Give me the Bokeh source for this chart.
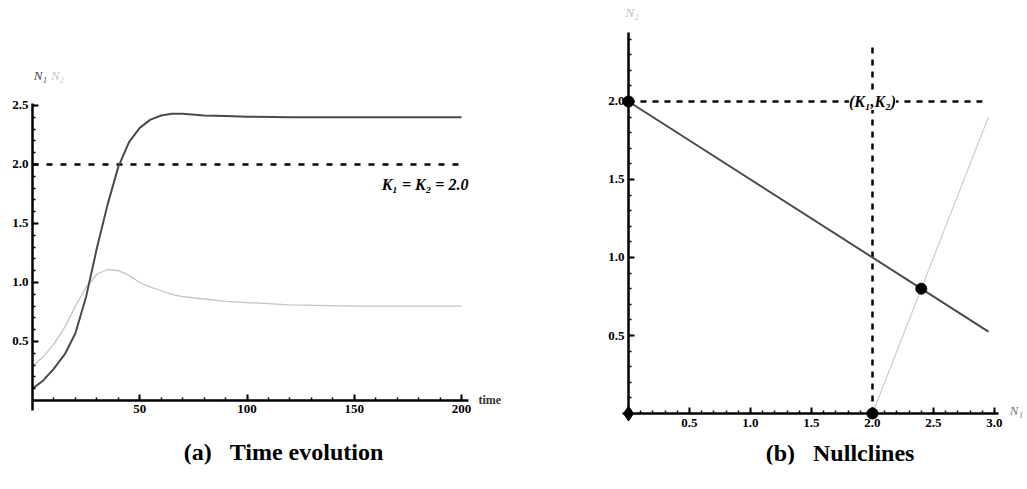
from bokeh.plotting import figure
from bokeh.models import Label, FixedTicker, Range1d, NumeralTickFormatter
from bokeh.layouts import row
from bokeh.embed import file_html
from bokeh.resources import INLINE

# ---- Panel (a): time evolution ----
t = [0, 5, 10, 15, 20, 25, 30, 35, 40, 45, 50, 55, 60, 65, 70, 80, 90, 100, 120, 150, 200]
N1 = [0.10, 0.17, 0.27, 0.39, 0.57, 0.88, 1.29, 1.66, 1.98, 2.19, 2.31, 2.38, 2.415, 2.43, 2.43,
      2.415, 2.41, 2.405, 2.40, 2.40, 2.40]
N2 = [0.29, 0.37, 0.48, 0.62, 0.80, 0.96, 1.07, 1.11, 1.10, 1.06, 1.00, 0.96, 0.93, 0.90, 0.88,
      0.86, 0.84, 0.83, 0.81, 0.80, 0.80]
K_level = 2.0
t_span = [0, 200]
a_xticks = [50, 100, 150, 200]
a_yticks = [0.5, 1.0, 1.5, 2.0, 2.5]

# ---- Panel (b): nullclines ----
null1_N1 = [0.0, 2.95]
null1_N2 = [2.0, 0.525]
null2_N1 = [2.0, 2.95]
null2_N2 = [0.0, 1.9]
Kh_N1 = [0.0, 2.9]
Kh_N2 = [2.0, 2.0]
Kv_N1 = [2.0, 2.0]
Kv_N2 = [0.0, 2.37]
eq_N1 = [0.0, 2.4, 2.0]
eq_N2 = [2.0, 0.8, 0.0]
origin_N1 = [0.0]
origin_N2 = [0.0]
b_xticks = [0.5, 1.0, 1.5, 2.0, 2.5, 3.0]
b_yticks = [0.5, 1.0, 1.5, 2.0]

SERIF = "Liberation Serif"
GAP = "\u00a0\u00a0\u00a0"


def style_axes(p, xbounds, ybounds, fix_y=True):
    for ax in (p.xaxis[0], p.yaxis[0]):
        ax.axis_line_width = 2.5
        ax.axis_line_color = "black"
        ax.major_tick_in = 6
        ax.major_tick_out = 0
        ax.minor_tick_in = 3
        ax.minor_tick_out = 0
        ax.major_tick_line_width = 2
        ax.minor_tick_line_width = 1.5
        ax.major_tick_line_color = "black"
        ax.minor_tick_line_color = "black"
        ax.major_label_text_font = SERIF
        ax.major_label_text_font_style = "bold"
        ax.major_label_text_font_size = "13px"
        ax.major_label_text_color = "black"
    p.xaxis[0].fixed_location = 0
    if fix_y:
        p.yaxis[0].fixed_location = 0
    p.xaxis[0].bounds = xbounds
    p.yaxis[0].bounds = ybounds
    p.xaxis[0].major_label_standoff = 5
    p.yaxis[0].major_label_standoff = 4
    p.xgrid.visible = False
    p.ygrid.visible = False
    p.outline_line_color = None


def lab(p, x, y, text, size, style="bold", color="black", align="center", bg=None):
    p.add_layout(Label(x=x, y=y, text=text, text_font=SERIF, text_font_style=style,
                       text_font_size=size, text_align=align, text_baseline="middle",
                       text_color=color, background_fill_color=bg))


# Panel (a): frame 32..560 px horizontally, 0..464 px vertically; origin at (32, 400)
pa = figure(width=560, height=489, output_backend="svg", toolbar_location=None,
            x_range=Range1d(0, 246.15), y_range=Range1d(-0.5424, 3.3898),
            min_border_left=32, min_border_right=0, min_border_top=0, min_border_bottom=25)
style_axes(pa, (0, 203.3), (-0.085, 2.52), fix_y=False)
pa.xaxis[0].ticker = FixedTicker(ticks=a_xticks, minor_ticks=list(range(10, 201, 10)))
pa.yaxis[0].ticker = FixedTicker(ticks=a_yticks, minor_ticks=[round(0.1 * i, 1) for i in range(1, 26)])
pa.yaxis[0].formatter = NumeralTickFormatter(format="0.0")

pa.line(t_span, [K_level, K_level], line_color="black", line_width=2.5, line_dash="6 8")
pa.line(t, N2, line_color="#c4c4c4", line_width=1.3)
pa.line(t, N1, line_color="#4a4a4a", line_width=2)

lab(pa, 183, 1.83, "K₁ = K₂ = 2.0", "16px", style="bold italic")
lab(pa, 207.9, 0.0, "time", "12px", color="#333333", align="left")
lab(pa, 0.6, 2.754, "N₁", "13px", style="italic", color="#444444", align="left")
lab(pa, 8.6, 2.754, "N₂", "13px", style="italic", color="#c8c8c8", align="left")
lab(pa, 117.0, -0.44, "(a)" + GAP + "Time evolution", "24px")

# Panel (b): frame 600..1027 px horizontally, 0..464 px vertically; origin at (628, 413)
pb = figure(width=467, height=489, output_backend="svg", toolbar_location=None,
            x_range=Range1d(-0.2295, 3.2705), y_range=Range1d(-0.3269, 2.6474),
            min_border_left=40, min_border_right=0, min_border_top=0, min_border_bottom=25)
style_axes(pb, (-0.05, 3.03), (-0.04, 2.44))
pb.xaxis[0].ticker = FixedTicker(ticks=b_xticks, minor_ticks=[round(0.1 * i, 1) for i in range(1, 31)])
pb.yaxis[0].ticker = FixedTicker(ticks=b_yticks, minor_ticks=[round(0.1 * i, 1) for i in range(1, 25)])
pb.xaxis[0].formatter = NumeralTickFormatter(format="0.0")
pb.yaxis[0].formatter = NumeralTickFormatter(format="0.0")

pb.line(Kh_N1, Kh_N2, line_color="black", line_width=2.5, line_dash="6 6")
pb.line(Kv_N1, Kv_N2, line_color="black", line_width=2.5, line_dash="6 6")
pb.line(null2_N1, null2_N2, line_color="#cccccc", line_width=1.2)
pb.line(null1_N1, null1_N2, line_color="#4a4a4a", line_width=2)
pb.scatter(eq_N1, eq_N2, size=11, color="black")
pb.scatter(origin_N1, origin_N2, marker="diamond", size=15, color="black")

lab(pb, 2.0, 2.0, "(K₁,K₂)", "16px", style="bold italic", bg="white")
lab(pb, 3.18, 0.02, "N₁", "13px", style="italic", color="#777777")
lab(pb, 0.03, 2.57, "N₂", "13px", style="italic", color="#bbbbbb")
lab(pb, 1.734, -0.25, "(b)" + GAP + "Nullclines", "24px")

layout = row(pa, pb)
open("out.html", "w").write(file_html(layout, INLINE))
